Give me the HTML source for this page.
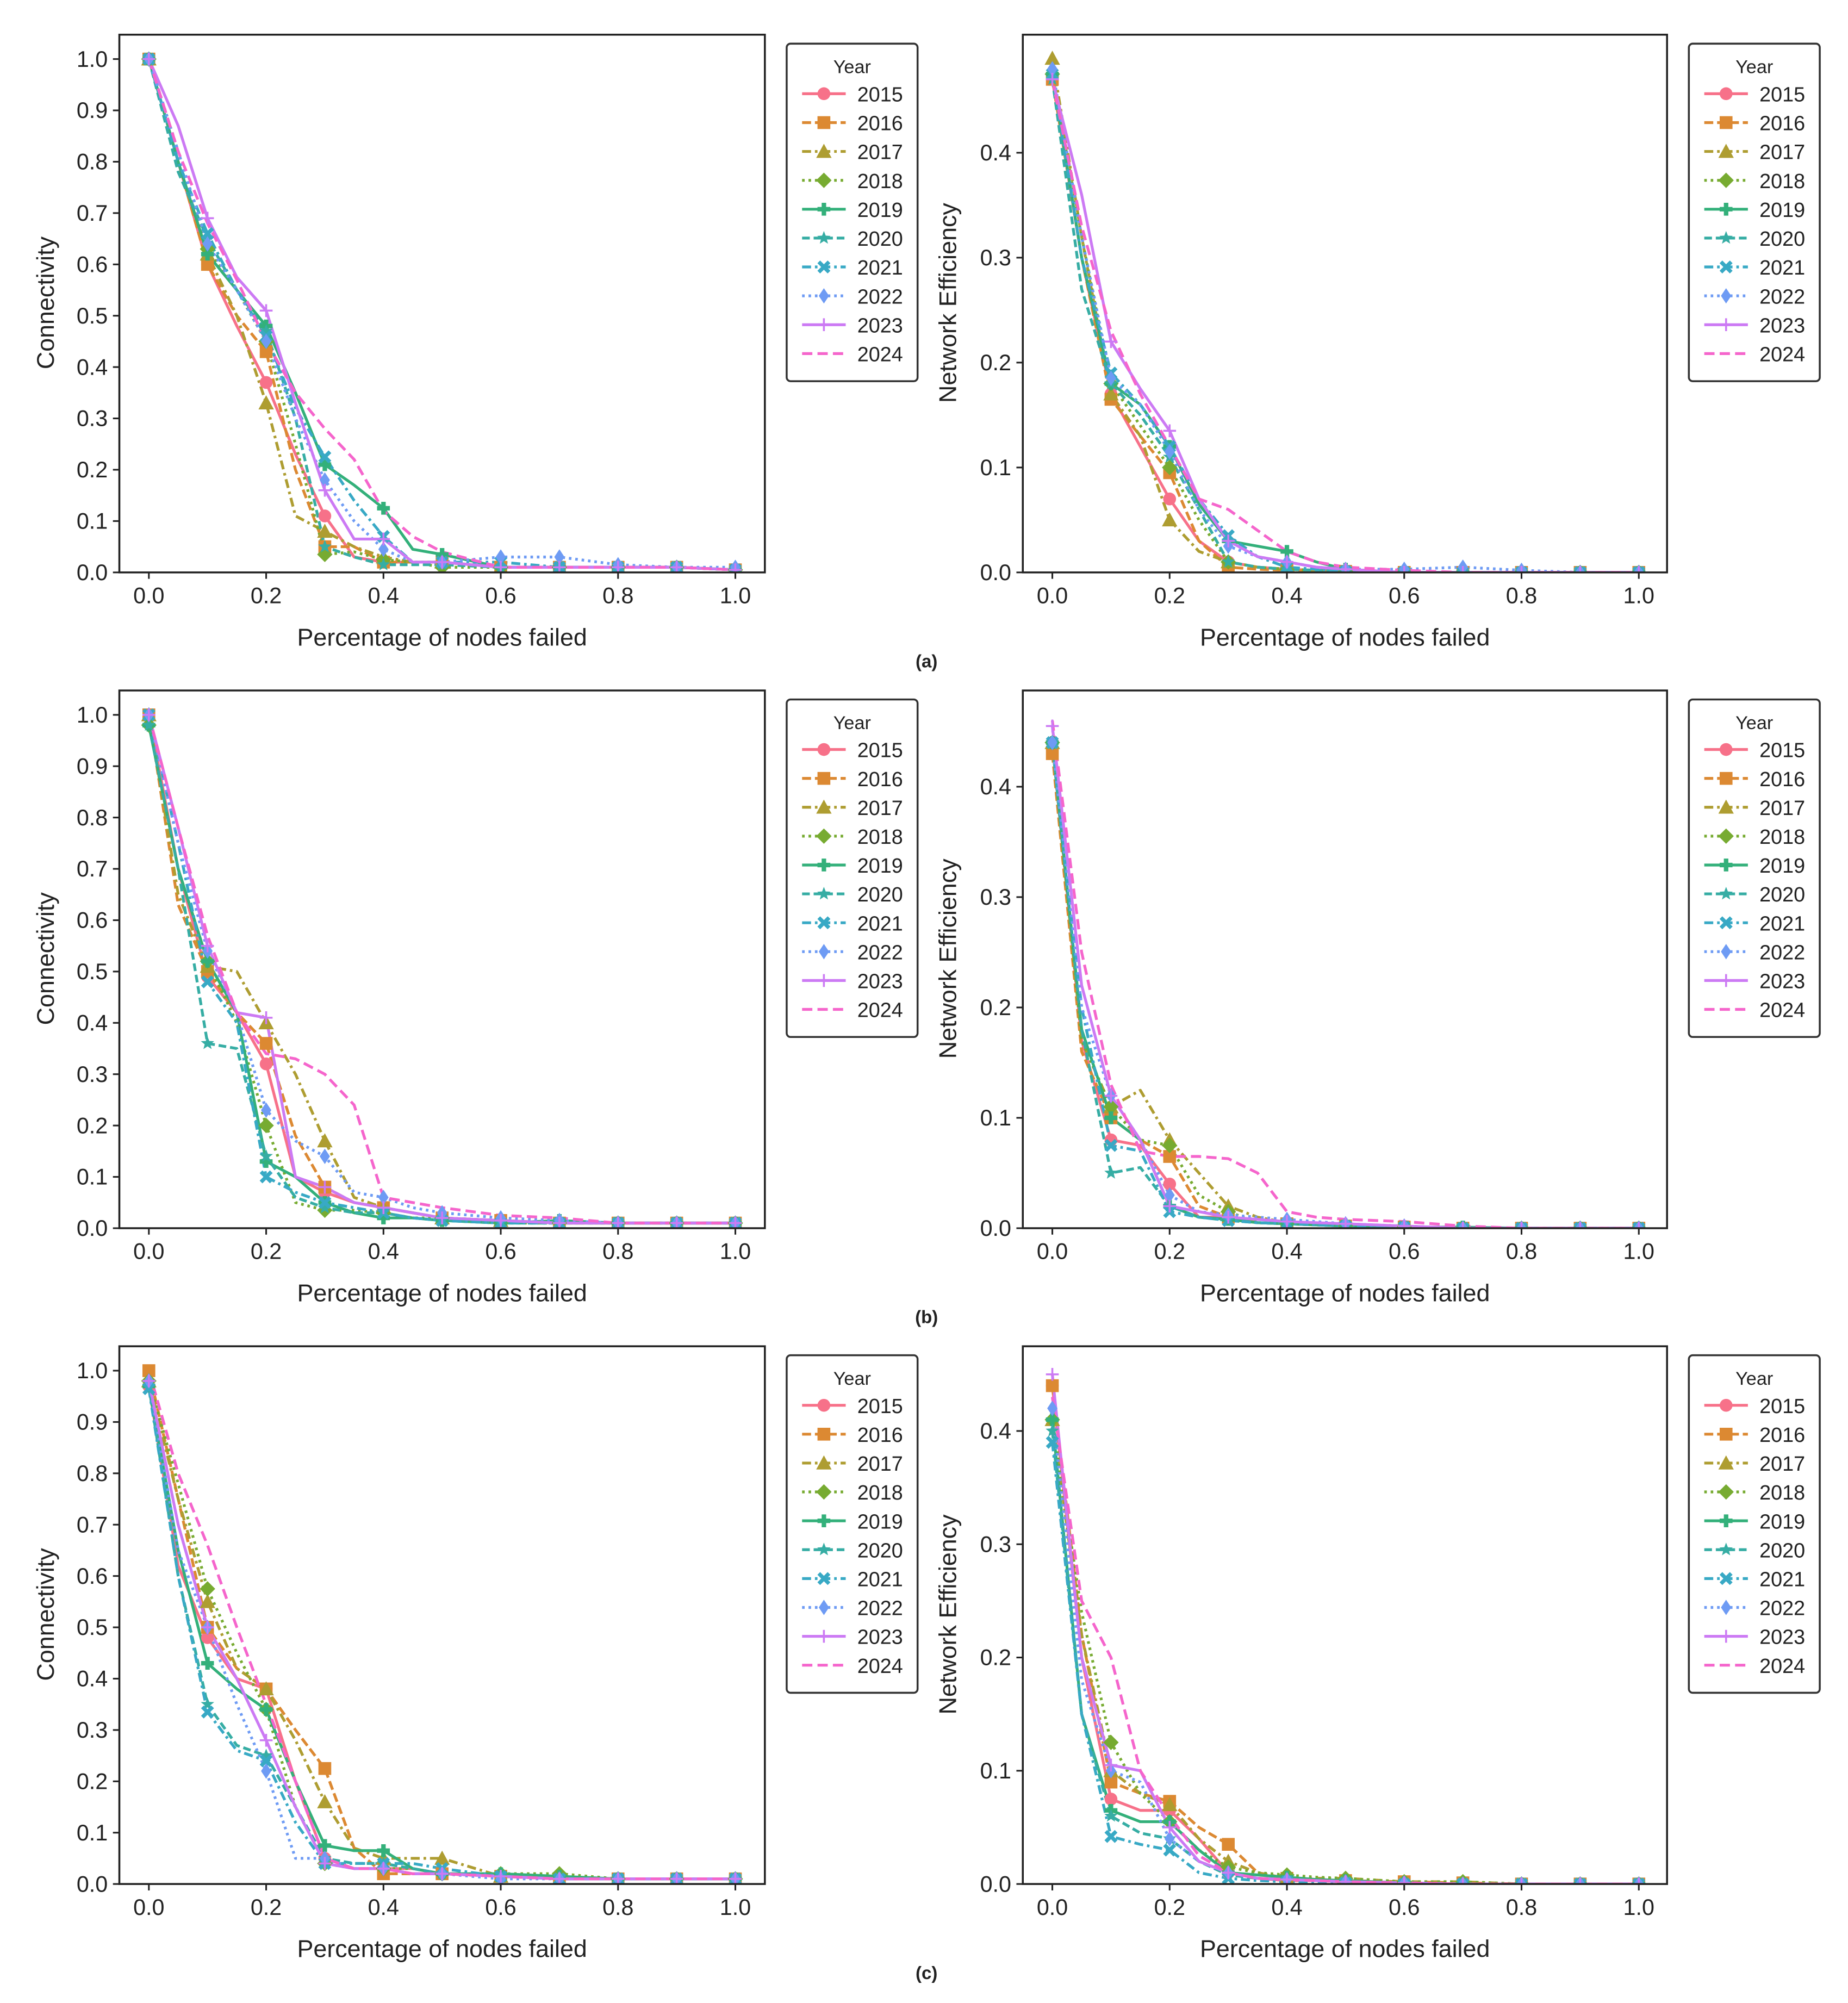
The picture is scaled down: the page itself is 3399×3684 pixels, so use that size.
<!DOCTYPE html>
<html><head><meta charset="utf-8"><style>
html,body{margin:0;padding:0;background:#fff}
svg{display:block}
text{font-family:"Liberation Sans",sans-serif;fill:#222}
</style></head><body>
<svg id="fig" xmlns="http://www.w3.org/2000/svg" width="3399" height="3684" viewBox="0 0 1440 1560.7">
<rect width="1440" height="1561" fill="#fff"/>
</svg>
<script>
const X=[0,.05,.1,.15,.2,.25,.3,.35,.4,.45,.5,.6,.7,.8,.9,1];
const years=['2015','2016','2017','2018','2019','2020','2021','2022','2023','2024'];
const colors=['#f77189','#dc8932','#ae9d31','#77ab31','#33b07a','#36ada4','#38a9c5','#6e9bf4','#cc7af4','#f565cc'];
const dashes=['none','7,3','7,3,2,3','2,3','none','6,3','7,3,2,3','2,3','none','8,4'];
const markers=['circle','square','triangle','diamond','pluscross','star','x','thindiamond','plus','none'];
const tail=[.005,.005,.005,.005,.005];
const aConn=[
[1,.8,.6,.48,.37,.23,.11,.03,.02,.02,.02,.01,.01,.01,.01,.005],
[1,.8,.6,.5,.43,.2,.05,.05,.02,.02,.02,.01,.01,.01,.01,.005],
[1,.8,.62,.5,.33,.11,.08,.05,.03,.02,.02,.01,.01,.01,.01,.005],
[1,.82,.63,.55,.45,.25,.035,.04,.025,.02,.01,.01,.01,.01,.01,.005],
[1,.8,.62,.55,.48,.35,.21,.17,.125,.045,.035,.01,.01,.01,.01,.005],
[1,.78,.65,.55,.47,.3,.05,.03,.015,.015,.015,.01,.01,.01,.01,.005],
[1,.8,.66,.55,.46,.32,.225,.14,.07,.02,.02,.02,.01,.01,.01,.005],
[1,.82,.64,.55,.45,.3,.18,.1,.045,.02,.02,.03,.03,.015,.01,.01],
[1,.87,.69,.575,.51,.33,.16,.065,.065,.02,.02,.01,.01,.01,.01,.005],
[1,.82,.68,.57,.45,.35,.28,.22,.12,.07,.04,.01,.01,.01,.01,.005]];
const aEff=[
[.47,.3,.17,.12,.07,.03,.01,.005,.003,.002,.001,0,0,0,0,0],
[.47,.3,.165,.13,.095,.03,.005,.003,.002,.001,.001,0,0,0,0,0],
[.49,.32,.17,.13,.05,.02,.01,.005,.003,.002,.001,0,0,0,0,0],
[.475,.32,.18,.14,.1,.05,.01,.005,.003,.002,.001,0,0,0,0,0],
[.475,.3,.18,.16,.12,.065,.03,.025,.02,.01,.003,0,0,0,0,0],
[.47,.27,.18,.15,.11,.06,.01,.005,.003,.002,.001,0,0,0,0,0],
[.475,.3,.19,.16,.12,.07,.035,.015,.005,.003,.001,0,0,0,0,0],
[.48,.32,.185,.16,.115,.06,.025,.015,.01,.005,.003,.003,.005,.002,0,0],
[.47,.36,.22,.175,.135,.07,.03,.015,.01,.005,.003,0,0,0,0,0],
[.47,.33,.23,.17,.12,.07,.06,.04,.02,.01,.005,.002,0,0,0,0]];
const bConn=[
[1,.7,.49,.42,.32,.1,.07,.05,.04,.03,.02,.015,.01,.01,.01,.01],
[1,.63,.5,.42,.36,.18,.08,.05,.04,.03,.02,.015,.01,.01,.01,.01],
[1,.65,.51,.5,.4,.3,.17,.06,.04,.03,.02,.015,.01,.01,.01,.01],
[.98,.7,.52,.4,.2,.05,.035,.035,.03,.02,.02,.01,.01,.01,.01,.01],
[.98,.7,.52,.42,.13,.1,.05,.03,.02,.02,.015,.01,.015,.01,.01,.01],
[.98,.7,.36,.35,.14,.06,.04,.03,.03,.02,.015,.01,.01,.01,.01,.01],
[1,.75,.48,.4,.1,.07,.05,.04,.03,.02,.015,.01,.01,.01,.01,.01],
[1,.75,.54,.42,.23,.17,.14,.07,.06,.04,.03,.02,.015,.01,.01,.01],
[1,.78,.55,.42,.41,.1,.08,.05,.04,.03,.02,.015,.01,.01,.01,.01],
[1,.78,.57,.42,.34,.33,.3,.24,.06,.05,.04,.025,.02,.01,.01,.01]];
const bEff=[
[.44,.17,.08,.075,.04,.01,.01,.005,.004,.003,.002,.001,0,0,0,0],
[.43,.16,.1,.08,.065,.02,.01,.005,.004,.003,.002,.001,0,0,0,0],
[.44,.17,.11,.125,.08,.05,.02,.01,.005,.004,.003,.001,0,0,0,0],
[.44,.17,.11,.08,.075,.03,.015,.005,.004,.003,.002,.001,0,0,0,0],
[.44,.18,.1,.08,.02,.01,.008,.005,.004,.003,.002,.001,.001,0,0,0],
[.44,.18,.05,.055,.02,.01,.007,.005,.004,.003,.002,.001,0,0,0,0],
[.44,.2,.075,.07,.015,.01,.007,.005,.004,.003,.002,.001,0,0,0,0],
[.44,.2,.12,.08,.03,.015,.012,.01,.008,.006,.004,.002,0,0,0,0],
[.455,.22,.12,.08,.02,.015,.01,.008,.006,.005,.004,.002,0,0,0,0],
[.46,.25,.13,.07,.065,.065,.063,.05,.015,.01,.008,.006,.002,0,0,0]];
const cConn=[
[.97,.62,.48,.4,.38,.2,.05,.03,.03,.03,.02,.015,.01,.01,.01,.01],
[1,.75,.5,.42,.38,.3,.225,.07,.02,.02,.02,.015,.01,.01,.01,.01],
[.98,.75,.55,.42,.38,.28,.16,.07,.05,.05,.05,.015,.01,.01,.01,.01],
[.98,.78,.575,.45,.34,.15,.04,.03,.03,.03,.02,.02,.02,.01,.01,.01],
[.97,.65,.43,.38,.34,.2,.075,.065,.065,.03,.02,.02,.015,.01,.01,.01],
[.97,.6,.35,.27,.25,.15,.05,.04,.04,.03,.02,.015,.01,.01,.01,.01],
[.965,.6,.335,.26,.24,.12,.04,.04,.04,.04,.03,.015,.01,.01,.01,.01],
[.98,.65,.5,.35,.22,.05,.05,.03,.03,.02,.02,.01,.01,.01,.01,.01],
[.98,.7,.5,.4,.28,.15,.04,.03,.03,.02,.02,.015,.01,.01,.01,.01],
[1,.8,.66,.5,.35,.2,.05,.03,.03,.02,.02,.015,.01,.01,.01,.01]];
const cEff=[
[.44,.2,.075,.065,.065,.04,.01,.005,.003,.003,.002,.001,0,0,0,0],
[.44,.22,.09,.08,.073,.05,.035,.01,.005,.004,.003,.002,.001,0,0,0],
[.41,.22,.1,.08,.07,.04,.02,.01,.005,.005,.005,.002,.002,0,0,0],
[.41,.24,.125,.08,.055,.03,.015,.01,.008,.006,.005,.002,.002,0,0,0],
[.41,.15,.065,.055,.055,.03,.01,.008,.006,.004,.003,.001,0,0,0,0],
[.4,.15,.06,.045,.04,.02,.008,.005,.004,.003,.002,.001,0,0,0,0],
[.39,.15,.042,.035,.03,.01,.005,.003,.002,.002,.001,0,0,0,0,0],
[.42,.18,.1,.09,.04,.02,.01,.005,.004,.003,.002,.001,0,0,0,0],
[.45,.2,.105,.1,.05,.02,.01,.005,.004,.003,.002,.001,0,0,0,0],
[.43,.25,.2,.1,.06,.025,.01,.005,.004,.003,.002,.001,0,0,0,0]];
const connTicks=[0,.1,.2,.3,.4,.5,.6,.7,.8,.9,1];
const effTicks=[0,.1,.2,.3,.4];
const xTicks=[0,.2,.4,.6,.8,1];

const NS='http://www.w3.org/2000/svg';
const svg=document.getElementById('fig');
function el(tag,attrs,parent){const e=document.createElementNS(NS,tag);for(const k in attrs)e.setAttribute(k,attrs[k]);(parent||svg).appendChild(e);return e;}
function txt(s,attrs,parent){const t=el('text',attrs,parent);t.textContent=s;return t;}

function marker(g,type,cx,cy,col){
  let m;const r=5;
  if(type==='circle')m=el('circle',{cx,cy,r:r,fill:col},g);
  else if(type==='square')m=el('rect',{x:cx-r,y:cy-r,width:2*r,height:2*r,fill:col},g);
  else if(type==='triangle')m=el('polygon',{points:`${cx},${cy-r-1} ${cx+r+1},${cy+r} ${cx-r-1},${cy+r}`,fill:col},g);
  else if(type==='diamond')m=el('polygon',{points:`${cx},${cy-r-1} ${cx+r+1},${cy} ${cx},${cy+r+1} ${cx-r-1},${cy}`,fill:col},g);
  else if(type==='thindiamond')m=el('polygon',{points:`${cx},${cy-r-1} ${cx+r-1},${cy} ${cx},${cy+r+1} ${cx-r+1},${cy}`,fill:col},g);
  else if(type==='pluscross')m=el('path',{d:`M${cx-r} ${cy}H${cx+r}M${cx} ${cy-r}V${cy+r}`,stroke:col,'stroke-width':3.5},g);
  else if(type==='plus')m=el('path',{d:`M${cx-r} ${cy}H${cx+r}M${cx} ${cy-r}V${cy+r}`,stroke:col,'stroke-width':1.5},g);
  else if(type==='x')m=el('path',{d:`M${cx-4} ${cy-4}L${cx+4} ${cy+4}M${cx+4} ${cy-4}L${cx-4} ${cy+4}`,stroke:col,'stroke-width':3},g);
  else if(type==='star'){let p=[];for(let i=0;i<10;i++){const a=-Math.PI/2+i*Math.PI/5;const rr=i%2?2.3:5.5;p.push((cx+rr*Math.cos(a)).toFixed(1)+','+(cy+rr*Math.sin(a)).toFixed(1));}m=el('polygon',{points:p.join(' '),fill:col},g);}
  if(m){}
}

function panel(name,data,off,isEff,per01,ticks,ylabel){
  const L=isEff?797:93, R=isEff?1299:596, top=27+off, base=446+off;
  const x0=isEff?820:116, x1=isEff?1277:573;
  const xs=v=>x0+v*(x1-x0);
  const ys=v=>base-v*per01*10;
  const g=el('g',{});
  
  
  // axes ticks
  ticks.forEach(t=>{
    const y=ys(t);
    el('line',{x1:L-5,x2:L,y1:y,y2:y,stroke:'#222','stroke-width':1.3},g);
    const tl=txt(t.toFixed(1),{x:L-9,y:y+6,'font-size':17.5,'text-anchor':'end'},g);
    
    
  });
  xTicks.forEach(t=>{
    const x=xs(t);
    el('line',{x1:x,x2:x,y1:base,y2:base+5,stroke:'#222','stroke-width':1.3},g);
    const tl=txt(t.toFixed(1),{x:x,y:base+24,'font-size':17.5,'text-anchor':'middle'},g);
    
    
  });
  const clip='c'+name;
  const cp=el('clipPath',{id:clip},g);el('rect',{x:L,y:top,width:R-L,height:base-top},cp);
  const sg=el('g',{'clip-path':`url(#${clip})`},g);
  data.forEach((ser,i)=>{
    const pts=ser.map((v,j)=>xs(X[j]).toFixed(2)+','+ys(v).toFixed(2)).join(' ');
    const pl=el('polyline',{points:pts,fill:'none',stroke:colors[i],'stroke-width':2.2,'stroke-dasharray':dashes[i],'stroke-linejoin':'round'},sg);
    
    
  });
  data.forEach((ser,i)=>{
    ser.forEach((v,j)=>{
      if(Math.abs(X[j]*10-Math.round(X[j]*10))<1e-6)marker(sg,markers[i],xs(X[j]),ys(v),colors[i]);
    });
  });
  el('rect',{x:L,y:top,width:R-L,height:base-top,fill:'none',stroke:'#222','stroke-width':1.5},g);
  const xl=txt('Percentage of nodes failed',{x:(L+R)/2,y:503+off,'font-size':19,'text-anchor':'middle'},g);
  
  
  const cy=236+off, cx=isEff?745:42;
  const yl=txt(ylabel,{x:cx,y:cy,'font-size':19,'text-anchor':'middle',transform:`rotate(-90 ${cx} ${cy})`},g);
  
  
  // legend
  const lx=isEff?1316:613, ly=34+off;
  const lg=el('g',{},g);
  
  
  el('rect',{x:lx,y:ly,width:102,height:263,rx:3,fill:'#fff',stroke:'#333','stroke-width':1.5},lg);
  txt('Year',{x:lx+51,y:ly+23,'font-size':14.5,'text-anchor':'middle'},lg);
  years.forEach((yr,i)=>{
    const yy=ly+39+i*22.5;
    const e=el('g',{},lg);
    
    
    el('line',{x1:lx+12,x2:lx+46,y1:yy,y2:yy,stroke:colors[i],'stroke-width':2.2,'stroke-dasharray':dashes[i]},e);
    marker(e,markers[i],lx+29,yy,colors[i]);
    txt(yr,{x:lx+55,y:yy+6,'font-size':16},e);
  });
}
const rows=[[aConn,aEff,0,81.75,'(a)'],[bConn,bEff,511,86,'(b)'],[cConn,cEff,1022,88.25,'(c)']];
rows.forEach((r,k)=>{
  panel('panel-'+k+'-connectivity',r[0],r[2],false,40,connTicks,'Connectivity');
  panel('panel-'+k+'-efficiency',r[1],r[2],true,r[3],effTicks,'Network Efficiency');
  const t=txt(r[4],{x:722,y:520+r[2],'font-size':14,'font-weight':'bold','text-anchor':'middle'});
  
  
});
</script>
</body></html>
